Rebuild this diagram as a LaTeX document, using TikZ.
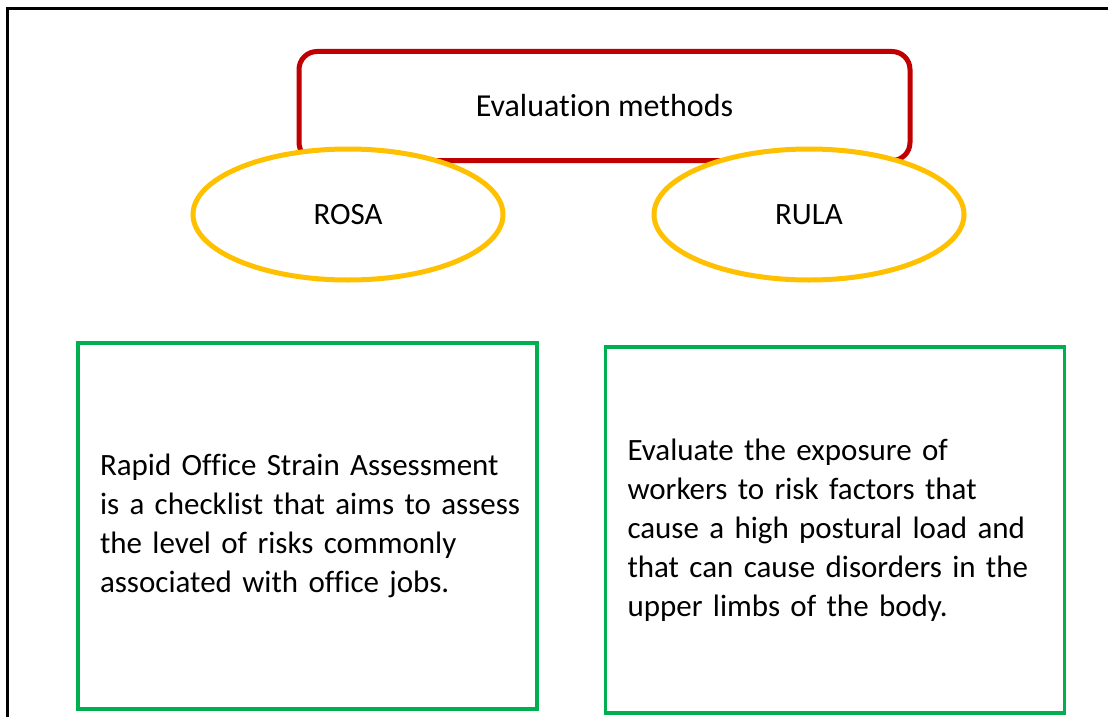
\documentclass[tikz,border=0pt]{standalone}
\usepackage{fontspec}
\setmainfont{Carlito}[Ligatures=NoCommon]
\usetikzlibrary{shapes.geometric}
\definecolor{titlered}{HTML}{C00000}
\definecolor{ovalyellow}{HTML}{FFC000}
\definecolor{boxgreen}{HTML}{00B050}
\tikzset{
  frameline/.style={line width=3pt, black},
  titlebox/.style={draw=titlered, line width=5pt, rounded corners=18pt, fill=white,
    minimum width=611pt, minimum height=109pt, inner sep=0pt,
    font=\fontsize{32}{38}\selectfont},
  oval/.style={ellipse, draw=ovalyellow, line width=5pt, fill=white,
    minimum width=310pt, minimum height=131pt, inner sep=0pt,
    font=\fontsize{31}{38}\selectfont},
  infobox/.style={draw=boxgreen, line width=3.5pt, fill=white,
    minimum width=459pt, minimum height=366pt, inner xsep=22pt, inner ysep=0pt,
    text width=415pt, align=left,
    font=\fontsize{31}{38.9}\selectfont},
}
\begin{document}
\begin{tikzpicture}[x=1pt,y=-1pt]
\useasboundingbox (0,0) rectangle (1108,717);
\coordinate (frTR) at (1108,9);
\coordinate (frTL) at (7,9);
\coordinate (frBL) at (7,717);
\draw[frameline] (frTR) -- (frTL) -- (frBL);

\node[titlebox] (title) at (604.5,106) {Evaluation methods};
\node[oval] (rosa) at (348,214.5) {ROSA};
\node[oval] (rula) at (809,214.5) {RULA};

\node[infobox] (rosatext) at (307.5,526) {\mbox{Rapid Office Strain Assessment}\\\mbox{is a checklist that aims to assess}\\\mbox{the level of risks commonly}\\\mbox{associated with office jobs.}};
\node[infobox] (rulatext) at (835,530) {\mbox{Evaluate the exposure of}\\\mbox{workers to risk factors that}\\\mbox{cause a high postural load and}\\\mbox{that can cause disorders in the}\\\mbox{upper limbs of the body.}};
\end{tikzpicture}
\end{document}
